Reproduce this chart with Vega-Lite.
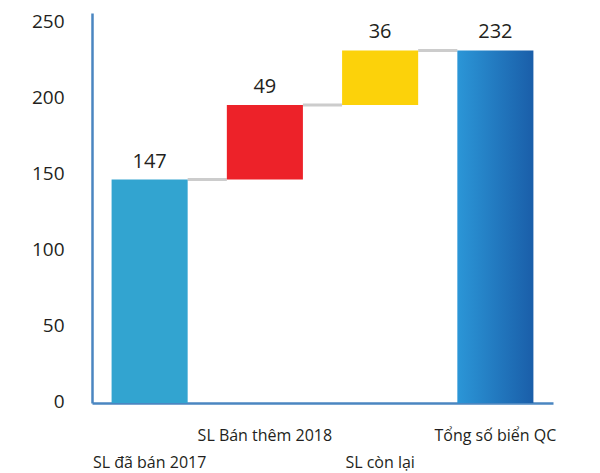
{
  "$schema": "https://vega.github.io/schema/vega-lite/v6.json",
  "width": 461,
  "height": 390,
  "autosize": "none",
  "padding": {"left": 92, "top": 13, "right": 47, "bottom": 70},
  "background": "white",
  "config": {"view": {"stroke": null}, "font": "Open Sans"},
  "data": {"values": [
    {"cat": "SL đã bán 2017", "start": 0, "end": 147, "label": "147", "next": "SL Bán thêm 2018", "kind": "a"},
    {"cat": "SL Bán thêm 2018", "start": 147, "end": 196, "label": "49", "next": "SL còn lại", "kind": "b"},
    {"cat": "SL còn lại", "start": 196, "end": 232, "label": "36", "next": "Tổng số biển QC", "kind": "c"},
    {"cat": "Tổng số biển QC", "start": 0, "end": 232, "label": "232", "next": null, "kind": "d"}
  ]},
  "layer": [
    {
      "transform": [{"filter": "datum.next != null"}],
      "mark": {"type": "rule", "color": "#cccccc", "strokeWidth": 3},
      "encoding": {
        "x": {"field": "cat", "type": "nominal", "bandPosition": 1,
          "scale": {"domain": ["SL đã bán 2017", "SL Bán thêm 2018", "SL còn lại", "Tổng số biển QC"], "paddingInner": 0.34, "paddingOuter": 0.17},
          "axis": {"title": null, "labelAngle": 0, "ticks": false, "domainColor": "#4a86c1", "domainWidth": 2.5,
            "labelFontSize": 16, "labelColor": "#231f20", "labelPadding": 24, "labelLineHeight": 27,
            "labelExpr": "indexof(['SL đã bán 2017', 'SL còn lại'], datum.value) >= 0 ? ['', datum.label] : datum.label"}},
        "x2": {"field": "next", "bandPosition": 0},
        "y": {"field": "end", "type": "quantitative",
          "scale": {"domain": [0, 256.6], "nice": false},
          "axis": {"title": null, "values": [0, 50, 100, 150, 200, 250], "grid": false, "ticks": false,
            "domainColor": "#4a86c1", "domainWidth": 2.5, "labelFontSize": 19, "labelColor": "#231f20",
            "labelPadding": 28, "labelOffset": -2}}
      }
    },
    {
      "transform": [{"filter": "datum.kind != 'd'"}],
      "mark": {"type": "bar"},
      "encoding": {
        "x": {"field": "cat", "type": "nominal"},
        "y": {"field": "start", "type": "quantitative"},
        "y2": {"field": "end"},
        "color": {"field": "kind", "type": "nominal", "legend": null,
          "scale": {"domain": ["a", "b", "c"], "range": ["#32a4d0", "#ed2229", "#fcd20a"]}}
      }
    },
    {
      "transform": [{"filter": "datum.kind == 'd'"}],
      "mark": {"type": "bar", "color": {"gradient": "linear", "x1": 0, "y1": 0, "x2": 1, "y2": 0,
        "stops": [{"offset": 0, "color": "#2b96d7"}, {"offset": 1, "color": "#1a5ea9"}]}},
      "encoding": {
        "x": {"field": "cat", "type": "nominal"},
        "y": {"field": "start", "type": "quantitative"},
        "y2": {"field": "end"}
      }
    },
    {
      "mark": {"type": "text", "baseline": "bottom", "dy": -8, "fontSize": 20, "color": "#231f20"},
      "encoding": {
        "x": {"field": "cat", "type": "nominal"},
        "y": {"field": "end", "type": "quantitative"},
        "text": {"field": "label"}
      }
    }
  ]
}
